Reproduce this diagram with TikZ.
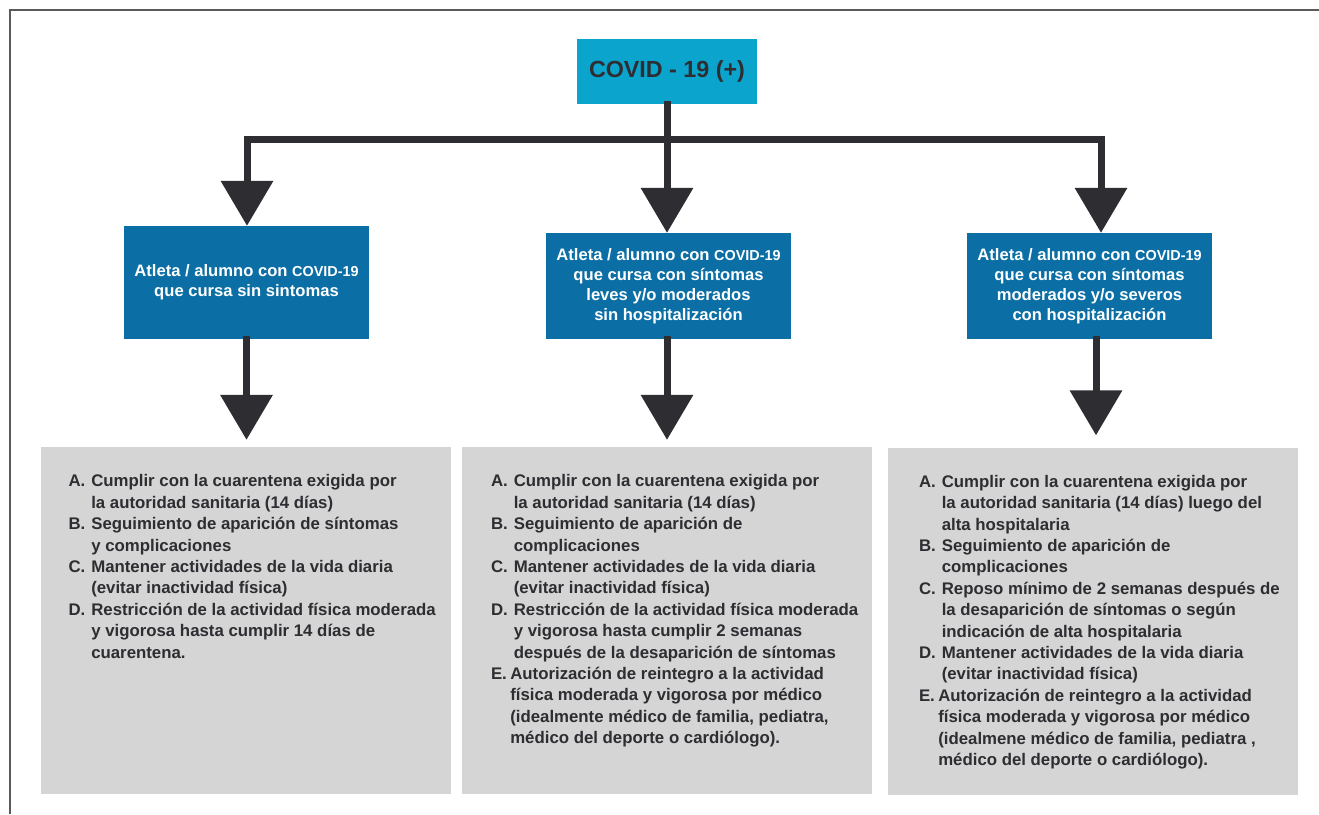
\documentclass[tikz,border=0pt]{standalone}
\usepackage{fontspec}
\setmainfont{Liberation Sans}
\usetikzlibrary{arrows.meta}

\definecolor{CelesteTop}{RGB}{10,164,204}
\definecolor{AzulCaja}{RGB}{11,111,165}
\definecolor{GrisCaja}{RGB}{213,213,213}
\definecolor{Oscuro}{RGB}{45,45,50}
\definecolor{Marco}{RGB}{90,90,90}

\newcommand{\covid}{{\fontsize{14.4}{20}\selectfont COVID-19}}	%smaller COVID-19 inside the blue boxes
\newcommand{\atras}{\hspace*{-3.5pt}}					%item E sits a bit further left

\begin{document}
\begin{tikzpicture}
	[x=1pt, y=-1pt,		%1pt = 1px of the layout, y runs downwards
	 CajaTop/.style={fill=CelesteTop, minimum width=180pt, minimum height=65pt, inner sep=0pt, text=Oscuro, font=\fontsize{23.3}{28}\selectfont\bfseries},
	 CajaAtleta/.style={fill=AzulCaja, minimum width=245pt, inner sep=0pt, text=white, align=center, font=\fontsize{16.6}{20}\selectfont\bfseries},
	 CajaPasos/.style={fill=GrisCaja, minimum width=410pt, minimum height=347pt, inner sep=0pt},
	 TextoPasos/.style={anchor=base west, inner sep=0pt, text=Oscuro, font=\fontsize{16.8}{21.4}\selectfont\bfseries},
	 Flecha/.style={draw=Oscuro, line width=7pt, line cap=rect, {Triangle[width=51pt, length=45pt]}-{Triangle[width=51pt, length=45pt]}},
	 FlechaAbajo/.style={Flecha, -{Triangle[width=51pt, length=45pt]}}
	]
	
	\useasboundingbox (0,0) rectangle (1319,814);
	\draw[Marco, line width=2pt] (10,814) -- (10,10) -- (1319,10);		%frame
	
	%Boxes
	\node[CajaTop] (top) at (667,71.5) {COVID - 19 (+)};
	\node[CajaAtleta, minimum height=113pt] (b1) at (246.5,282.5) {Atleta / alumno con \covid\\que cursa sin sintomas};
	\node[CajaAtleta, minimum height=106pt] (b2) at (668.5,286) {Atleta / alumno con \covid\\que cursa con síntomas\\leves y/o moderados\\sin hospitalización};
	\node[CajaAtleta, minimum height=106pt] (b3) at (1089.5,286) {Atleta / alumno con \covid\\que cursa con síntomas\\moderados y/o severos\\con hospitalización};
	\node[CajaPasos] (g1) at (245.5,620.5) {};
	\node[CajaPasos] (g2) at (667,620.5) {};
	\node[CajaPasos] (g3) at (1093,621) {};
	
	%Texts of the grey boxes
	\node[TextoPasos] (t1) at ([shift={(28,40)}]g1.north west) {\begin{tabular}[t]{@{}l@{\hspace{6pt}}l@{}}
		A. & Cumplir con la cuarentena exigida por\\
		   & la autoridad sanitaria (14 días)\\
		B. & Seguimiento de aparición de síntomas\\
		   & y complicaciones\\
		C. & Mantener actividades de la vida diaria\\
		   & (evitar inactividad física)\\
		D. & Restricción de la actividad física moderada\\
		   & y vigorosa hasta cumplir 14 días de\\
		   & cuarentena.
	\end{tabular}};
	\node[TextoPasos] (t2) at ([shift={(29,40)}]g2.north west) {\begin{tabular}[t]{@{}l@{\hspace{6pt}}l@{}}
		A. & Cumplir con la cuarentena exigida por\\
		   & la autoridad sanitaria (14 días)\\
		B. & Seguimiento de aparición de\\
		   & complicaciones\\
		C. & Mantener actividades de la vida diaria\\
		   & (evitar inactividad física)\\
		D. & Restricción de la actividad física moderada\\
		   & y vigorosa hasta cumplir 2 semanas\\
		   & después de la desaparición de síntomas\\
		E. & \atras Autorización de reintegro a la actividad\\
		   & \atras física moderada y vigorosa por médico\\
		   & \atras (idealmente médico de familia, pediatra,\\
		   & \atras médico del deporte o cardiólogo).
	\end{tabular}};
	\node[TextoPasos] (t3) at ([shift={(31,40)}]g3.north west) {\begin{tabular}[t]{@{}l@{\hspace{6pt}}l@{}}
		A. & Cumplir con la cuarentena exigida por\\
		   & la autoridad sanitaria (14 días) luego del\\
		   & alta hospitalaria\\
		B. & Seguimiento de aparición de\\
		   & complicaciones\\
		C. & Reposo mínimo de 2 semanas después de\\
		   & la desaparición de síntomas o según\\
		   & indicación de alta hospitalaria\\
		D. & Mantener actividades de la vida diaria\\
		   & (evitar inactividad física)\\
		E. & \atras Autorización de reintegro a la actividad\\
		   & \atras física moderada y vigorosa por médico\\
		   & \atras (idealmene médico de familia, pediatra ,\\
		   & \atras médico del deporte o cardiólogo).
	\end{tabular}};
	
	%Connectors
	\coordinate (izq) at (247,139.5);		%left end of the branch line
	\coordinate (der) at (1101,139.5);		%right end of the branch line
	\draw[Flecha] (izq |- b1.north) -- (izq) -- (der) -- (der |- b3.north);
	\draw[FlechaAbajo] (top.south) -- (top.south |- b2.north);
	\draw[FlechaAbajo, shorten >=7pt] (b1.south) -- (b1.south |- g1.north);
	\draw[FlechaAbajo, shorten >=7pt] ([xshift=-1.5pt]b2.south) -- ([xshift=-1.5pt]b2.south |- g2.north);
	\draw[FlechaAbajo, shorten >=12pt] ([xshift=6.5pt]b3.south) -- ([xshift=6.5pt]b3.south |- g3.north);
	
\end{tikzpicture}
\end{document}
